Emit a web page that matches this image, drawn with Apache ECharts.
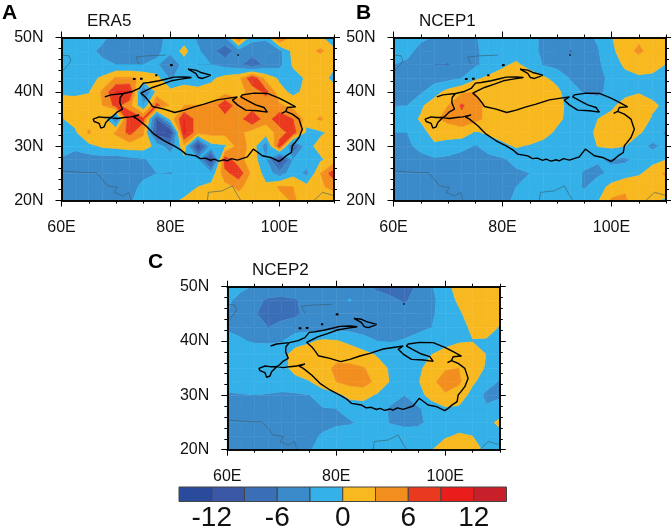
<!DOCTYPE html>
<html>
<head>
<meta charset="utf-8">
<style>
  html, body { margin: 0; padding: 0; background: #fff; }
  #chart { width: 671px; height: 529px; }
</style>
<script src="https://cdn.jsdelivr.net/npm/echarts@6/dist/echarts.min.js"></script>
</head>
<body>
<div id="chart"></div>
<script>
// grid of the fields, 2.5 degree spacing; rows run from 50N down to 20N
const lons = [60, 62.5, 65, 67.5, 70, 72.5, 75, 77.5, 80, 82.5, 85, 87.5, 90, 92.5, 95, 97.5, 100, 102.5, 105, 107.5, 110];
const lats = [50, 47.5, 45, 42.5, 40, 37.5, 35, 32.5, 30, 27.5, 25, 22.5, 20];

const era5 = [
  [-2, -2, -2, -2.5, -4, -4.5, -4.5, -4, -2, -1.5, -3.5, -4.5, -3.5, 6.5, -2.5, -2.6, 7, 2, 1.5, 1, -4],
  [-1.5, -2, -2.5, -3.5, -4.5, -5, -4.5, -3.5, -2, 1, -2.5, -5, -8, -4.5, -4, -4.5, -4, 1, 2, 3.5, 1.5],
  [-1.5, -2, -2, -2.5, -3, -3, -3, -2.5, -6, -1.5, -3, -3, -4, -5, -9, -5, -4, 0.5, 1, 1, 0.5],
  [-2, -1.5, -1, 0.5, 3.5, 3.5, 2.5, 1, -3.5, -1, -1.5, -0.5, 1, 2, 8.5, 2, -0.5, -1.5, 0.5, 1.5, -1],
  [-0.3, -0.5, -0.2, 3.5, 9, 9.5, -7, 1, 1, 1, 0.8, 1, 2, 2, 4, 7, 1, -0.8, 0.8, 1.5, 1.5],
  [0.8, 1, 1.5, 3, 7, 4, -3, 7, 2.5, 3, 3, 3.5, 8.5, 4, 4, 4, 3.5, 2, 1.5, 1, 1],
  [-0.2, 1, 1.5, 2, -6, 9, 7, -9, 1, 9, 4.5, 4.5, 4.5, 4.5, 9, 4, 8.5, 6, 1.5, 3.5, 1],
  [-0.5, -0.5, 3.5, 0.5, 3.5, 7, 3.5, -11, -12.5, 10, 4, 4, 4, 4, 1.5, 1.5, 4, 8, -1, -0.5, 1],
  [-1, -2.5, -1, 0.5, 1, 1.5, 1.5, -1, -5, 2, -13, -1, -0.5, 4.5, 2, -5, 8, -9, -1, 1, 1],
  [-3.5, -4, -4.5, -4.5, -5, -4, -3.5, -1.5, -1, -0.8, -2, -13, 8, 4, 1.5, -2.5, -12, -3, -1, -0.5, 1.5],
  [-4, -4.5, -4, -4, -4.5, -4.5, -4, -3, -3.2, -2, -3, -2, 5, 8, 2, -1, -5, -1, -4, 3, 8],
  [-3.5, -4.5, -4.5, -4.5, -4.5, -4.5, -2, -2, -1, -1, 0, 1, 2, 3.5, 2, 0.5, 3.5, 3, 1, 2.5, 4],
  [-3.5, -3.5, -3.5, -4, -4, -3.5, -1.5, -1, -0.5, 0.3, 1, 1.5, 2, 2, 1, 0.5, 1.5, 3.5, 1.5, 1, 1]
];

const ncep1 = [
  [-1, -1.5, -2.5, -3.2, -3.5, -3.3, -3.1, -2.5, -2, -2, -2.5, -3.3, -3.8, -4, -3.6, -2.7, -0.2, 2, 2.5, 2.5, 2.5],
  [-1.2, -2.3, -3.8, -4.5, -4.5, -4.2, -3.5, -2, -1.5, -1.5, -2.2, -3.5, -4.5, -6.3, -4.5, -3.2, -0.8, 2, 3.5, 2, 1],
  [-3, -3.5, -4.5, -6, -6.2, -4.5, -3.5, -2, -0.5, 0.5, -1, -3.2, -4, -4.5, -4.5, -3.5, -1.5, 0.5, 1.5, 1, -0.1],
  [-3.3, -3.5, -4, -4.2, -4, -3, -0.5, 0.6, 1.3, 2, 1.5, 0.5, -1, -3.2, -4, -3.6, -2.5, -1, -0.5, -0.6, -1],
  [-3.5, -3.5, -3.5, -1.2, 1, 2.5, 3, 2, 2, 2, 1.5, 1.3, 0.8, -2, -3.3, -3.7, -2, -0.8, -0.3, -0.8, -1],
  [-3.3, -3, -0.5, 1.5, 3, 6.5, 4, 2, 2, 2.2, 2, 1.5, 1, -1, -1.5, -1.5, -0.5, 1, 2, 0.5, -0.6],
  [-1.2, -1.2, 0.3, 2.5, 4, 5, 4, 2, 2, 2, 2, 1.5, 0.6, -0.8, -1.2, 0, 0.8, 1.5, 1.5, -0.3, -0.9],
  [-3, -3, -1, 1, 1, 1.5, -0.3, 0.5, 1.5, 2, 2, 1, -0.5, -1, -1.2, 0.6, 1.2, 1.2, 0.3, -1, -3.5],
  [-3.2, -3.5, -2.3, -0.5, -1, -2, -3.2, -2, -0.8, 0.3, -0.3, -1, -1.3, -1.5, -1.5, 0.1, 0.6, 0, -1.5, -3.8, -2],
  [-3.5, -3.8, -3.8, -3.5, -3.8, -4.5, -4, -3.7, -3.4, -2.2, -1.5, -1.5, -1.6, -2, -2, -2.8, -3.3, -3.5, -2, -1, 0],
  [-3.6, -3.8, -3.8, -3.6, -3.6, -6, -4.2, -3.8, -3.6, -3.5, -3, -1.5, -1.2, -1.5, -3.3, -3.5, -2.5, -1.5, -0.5, 1.5, 3.5],
  [-3.5, -3.6, -3.6, -3.6, -3.6, -3.6, -3.6, -3.5, -3.3, -3, -1.5, -1, -1.3, -1.8, -3.3, -1.5, 1, 2.5, 2.5, 2, 2],
  [-3.5, -3.6, -3.6, -3.6, -3.6, -3.6, -3.6, -3.5, -3.3, -2.8, -1.5, -1, -1, -1, -1, -0.3, 3.5, 3.5, 1, 0.5, -0.5]
];

const ncep2 = [
  [-2, -2.6, -3.2, -3.5, -3.5, -3.6, -3.7, -3.8, -3.8, -3.8, -5.2, -6.6, -7, -7.5, -5.5, -3.3, -0.8, 1, 2, 2, 2],
  [-2.7, -3.6, -5, -6.5, -7, -6.3, -4.5, -3.6, -3.5, -2.9, -3.7, -4.7, -5.5, -6.3, -5, -3.7, -1.5, 0.5, 2, 2, 2],
  [-3, -4, -5.8, -7, -7, -6.5, -5, -4, -4, -3.8, -4.2, -4.5, -4.8, -5, -4.5, -3.5, -1.5, -0.5, 1.5, 2, 2],
  [-3.2, -3.8, -5, -6, -5, -4.5, -4.2, -4, -4, -4, -4, -4, -4, -4, -3.7, -3, -1.5, -1, 0.5, 2, -0.3],
  [-2.5, -2.7, -3.4, -3.5, -3.2, -1, -0.5, 0.5, 0.2, -0.8, -2.2, -3, -3.2, -2.8, -2, -1.5, -1, -0.3, -0.1, -0.5, -1],
  [-1.5, -1, -1, -1, -0.8, 1, 2, 2.5, 2.5, 2, 1, -0.3, -1, -1, -0.8, 0, 1, 1.8, 1.5, 0, -1],
  [-1, -1, -1, -1, -0.8, 0.8, 1.8, 2.5, 3.3, 3.5, 3.2, 1.5, -0.5, -1, -0.5, 1, 2.8, 3, 1.5, -0.3, -1.2],
  [-1.5, -1.5, -1.5, -1.2, -1, -0.8, -0.2, 1.5, 3, 4, 4.5, 2, -0.3, -1, -0.3, 2.5, 4, 3.5, 0.5, -1.5, -3.3],
  [-3.5, -3.2, -3, -3.3, -3.7, -3.5, -3.1, -1.5, -0.8, 0.8, 0.8, -0.3, -1.8, -3, -1, 1, 2.7, 1.5, -1, -3.7, -3.5],
  [-3.8, -3.8, -3.8, -3.8, -3.8, -3.7, -3.6, -3.2, -3, -1.8, -1.2, -1.5, -3.5, -4, -3.5, -1.5, -0.5, -0.5, -1.5, -2.6, -1.5],
  [-3.5, -3.5, -3.5, -3.5, -3.5, -3.5, -3.5, -3.5, -3.4, -3.3, -2.5, -2, -3.2, -3.8, -3.8, -2, -1, -1, -1, -0.8, 0.6],
  [-3.5, -3.6, -3.6, -3.6, -3.6, -3.6, -3.5, -2.8, -2, -1.5, -1.2, -1, -1.2, -1.5, -1, -0.5, -0.3, 0.3, 0, -1, -1],
  [-3.5, -3.5, -3.5, -3.5, -3.5, -3.4, -3.2, -2.2, -1.5, -1, -1, -1, -1, -1, -1, -0.1, 1.5, 2, 1, -0.5, -1]
];

// contour levels and band colours, one more colour than levels
const levels = [-12, -9, -6, -3, 0, 3, 6, 9, 12];
const bandColors = ['#2a4b9b', '#3a57a6', '#3a6fb7', '#3b8bcb', '#33b1e8', '#f8b81f', '#f28e1e', '#e93a20', '#e91d1c', '#c8202a'];
const barEdges = [-15, -12, -9, -6, -3, 0, 3, 6, 9, 12, 15];
const barLabels = [-12, -6, 0, 6, 12];

// plateau outline, lon/lat
const plateau = [
  [67.95, 39.08], [69.05, 39.45], [71.37, 39.7], [73.02, 40.07], [74.24, 40.62], [75.04, 41.6], [76.08, 41.72],
  [77.91, 42.03], [79.44, 42.4], [80.66, 42.7], [82.5, 42.76], [83.84, 42.64], [81.88, 42.33], [80.17, 42.03],
  [78.52, 41.42], [76.69, 40.8], [74.55, 39.76], [75.47, 38.96], [76.2, 38.04], [76.69, 37.3], [78.83, 36.81],
  [80.78, 36.2], [82.5, 36.63], [84.33, 37.24], [86.16, 37.73], [88.6, 38.53], [92.27, 39.08], [91.36, 38.47],
  [92.27, 37.6], [93.8, 36.63], [95.94, 36.51], [97.77, 36.26], [97.16, 37.12], [95.63, 37.61], [94.41, 38.23],
  [92.88, 39.08], [93.19, 39.45], [95.33, 39.76], [97.77, 39.7], [99.91, 38.84], [101.44, 38.04], [102.97, 37.24],
  [101.44, 37.12], [101.13, 36.39], [100.4, 36.02], [101.13, 36.39], [102.36, 35.89], [103.58, 34.97], [104.19, 33.13],
  [103.58, 31.6], [102.8, 30.6], [102.36, 30.07], [102.17, 28.84], [101.2, 28.2], [100.52, 27.61], [99.91, 27.18],
  [98.38, 27.92], [96.86, 28.23], [95.63, 29.15], [95.2, 29.45], [94.1, 28.04], [92.27, 27.43], [91.2, 27.7],
  [90.4, 27.3], [89.83, 27.5], [88.9, 27.25], [88, 27.6], [87.38, 27.4], [86.4, 27.8], [85.5, 27.7], [84.63, 28.22],
  [82.8, 28.53], [81.88, 29.33], [80.66, 30.06], [78.83, 30.99], [77, 32.21], [75.47, 33.75], [73.94, 34.97],
  [73.2, 35.4], [74.24, 35.77], [72.72, 35.4], [71.49, 35.28], [70.27, 35.1], [69.05, 35.28], [67.83, 35.28],
  [66.91, 35.4], [65.81, 34.97], [65.99, 34.54], [66.91, 34.18], [67.22, 33.32], [67.83, 33.56], [68.13, 34.36],
  [69.05, 35.28], [69.54, 35.59], [70.27, 36.32], [71.19, 36.81], [70.7, 38.04], [70.76, 38.96], [71.37, 39.7]
];
const tianshan = [
  [83.23, 44.18], [84.63, 44], [85.55, 43.56], [87.39, 43.07], [86.65, 42.76], [85.86, 42.46], [85.12, 42.64], [84.63, 43.38], [83.23, 44.18]
];
const islets = [
  [[73.1, 42.34], [73.6, 42.34]],
  [[74.4, 42.4], [74.9, 42.4]],
  [[77.2, 43.07], [77.6, 43.07]],
  [[79.9, 44.9], [80.4, 44.95]],
  [[92.3, 46.8], [92.5, 46.8]]
];

// thin coastlines and lakes
const coasts = [
  [[60, 46.75], [61.4, 46.63], [61.7, 45.7], [61.1, 44.8], [60.2, 43.9]],
  [[74.24, 45.1], [73.63, 46.4], [75.77, 46.63], [79.13, 46.75]],
  [[60, 25.46], [64.16, 25.15], [66.3, 25.15], [67.5, 23.9], [68.4, 22.7], [70.3, 22.4], [69.66, 21.5], [71.2, 20.86], [72.4, 21.5], [72.7, 20]],
  [[86.77, 20], [86.95, 21.5], [89.5, 21.78], [91.35, 22.7], [92, 21.5], [92.9, 20]],
  [[106.3, 20], [107.9, 21.5], [110, 20.9]]
];

const panels = [
  { name: 'ERA5', letter: 'A', field: era5, left: 61.5, top: 37.5, titleLeft: 87, titleTop: 13, letterLeft: 2, letterTop: 3 },
  { name: 'NCEP1', letter: 'B', field: ncep1, left: 393.5, top: 37.5, titleLeft: 419, titleTop: 13, letterLeft: 356, letterTop: 3 },
  { name: 'NCEP2', letter: 'C', field: ncep2, left: 227.3, top: 286.7, titleLeft: 252, titleTop: 262, letterLeft: 148, letterTop: 252 }
];
const panelWidth = 272.5;
const panelHeight = 163;

const fontFamily = '"Liberation Sans", Arial, sans-serif';

/** Builds one data item per grid cell: corner position, then its four corner values. */
const buildCells = (field) => {
  const cells = [];
  for (let j = 0; j < lats.length - 1; j++) {
    for (let i = 0; i < lons.length - 1; i++) {
      cells.push([lons[i], lats[j], lons[i + 1], lats[j + 1], field[j][i], field[j][i + 1], field[j + 1][i + 1], field[j + 1][i]]);
    }
  }
  return cells;
};

/** Cuts a cell polygon down to the part on one side of level; sign 1 keeps above, -1 keeps below. */
const clipLevel = (poly, level, sign) => {
  const out = [];
  for (let k = 0; k < poly.length; k++) {
    const a = poly[k];
    const b = poly[(k + 1) % poly.length];
    const aIn = (a[2] - level) * sign >= 0;
    const bIn = (b[2] - level) * sign >= 0;
    if (aIn) {
      out.push(a);
    }
    if (aIn !== bIn) {
      const t = (level - a[2]) / (b[2] - a[2]);
      out.push([a[0] + t * (b[0] - a[0]), a[1] + t * (b[1] - a[1]), level]);
    }
  }
  return out;
};

const renderCell = (params, api) => {
  const p00 = api.coord([api.value(0), api.value(1)]);
  const p11 = api.coord([api.value(2), api.value(3)]);
  const poly = [
    [p00[0], p00[1], api.value(4)],
    [p11[0], p00[1], api.value(5)],
    [p11[0], p11[1], api.value(6)],
    [p00[0], p11[1], api.value(7)]
  ];
  const children = [];
  bandColors.forEach((color, n) => {
    let part = poly;
    if (n > 0) {
      part = clipLevel(part, levels[n - 1], 1);
    }
    if (n < levels.length && part.length > 2) {
      part = clipLevel(part, levels[n], -1);
    }
    if (part.length > 2) {
      children.push({
        type: 'polygon',
        shape: { points: part.map((pt) => [pt[0], pt[1]]) },
        style: { fill: color, stroke: color, lineWidth: 0.5 }
      });
    }
  });
  return { type: 'group', children };
};

const renderBarBox = (params, api) => {
  const start = api.coord([api.value(0), 1]);
  const end = api.coord([api.value(1), 0]);
  return {
    type: 'rect',
    shape: { x: start[0], y: start[1], width: end[0] - start[0], height: end[1] - start[1] },
    style: { fill: bandColors[params.dataIndex], stroke: '#444', lineWidth: 1 }
  };
};

const grid = [];
const xAxis = [];
const yAxis = [];
const series = [];
const title = [];

const axisLine = { show: true, onZero: false, lineStyle: { color: '#000', width: 1.5 } };
const tickLine = { color: '#000', width: 1 };

panels.forEach((panel, g) => {
  grid.push({ left: panel.left, top: panel.top, width: panelWidth, height: panelHeight, outerBoundsMode: 'none' });

  const label = { show: true, margin: 19, fontSize: 16, color: '#111', fontFamily, hideOverlap: false };
  ['bottom', 'top'].forEach((position) => {
    const labelled = position === 'bottom';
    xAxis.push({
      type: 'value', gridIndex: g, position, min: 60, max: 110, interval: 20, z: 5,
      splitLine: { show: false }, axisLine,
      axisTick: { show: true, length: 6, lineStyle: tickLine, customValues: [60, 80, 100] },
      axisLabel: labelled
        ? { ...label, customValues: [60, 80, 100], formatter: (v) => v + 'E' }
        : { show: false }
    });
    xAxis.push({
      type: 'value', gridIndex: g, position, min: 60, max: 110, interval: 5, z: 5,
      splitLine: { show: false }, axisLine,
      axisTick: { show: true, length: 3, lineStyle: tickLine },
      axisLabel: { show: false }
    });
  });
  ['left', 'right'].forEach((position) => {
    const labelled = position === 'left';
    yAxis.push({
      type: 'value', gridIndex: g, position, min: 20, max: 50, interval: 10, z: 5,
      splitLine: { show: false }, axisLine,
      axisTick: { show: true, length: 6, lineStyle: tickLine },
      axisLabel: labelled
        ? { ...label, margin: 18, formatter: (v) => v + 'N' }
        : { show: false }
    });
    yAxis.push({
      type: 'value', gridIndex: g, position, min: 20, max: 50, interval: 2, z: 5,
      splitLine: { show: false }, axisLine,
      axisTick: { show: true, length: 3, lineStyle: tickLine },
      axisLabel: { show: false }
    });
  });

  const xIndex = g * 4;
  const yIndex = g * 4;
  series.push({
    type: 'custom', name: panel.name, xAxisIndex: xIndex, yAxisIndex: yIndex, z: 1,
    coordinateSystem: 'cartesian2d', renderItem: renderCell, data: buildCells(panel.field),
    encode: { x: [0, 2], y: [1, 3] }, silent: true
  });
  const addLine = (points, color, width, z) => {
    series.push({
      type: 'line', xAxisIndex: xIndex, yAxisIndex: yIndex, data: points, z,
      showSymbol: false, silent: true, lineStyle: { color, width }
    });
  };
  coasts.forEach((coast) => addLine(coast, '#3d5a6c', 0.6, 2));
  addLine(plateau, '#000', 1.4, 3);
  addLine(tianshan, '#000', 1.4, 3);
  islets.forEach((islet) => addLine(islet, '#000', 2, 3));

  title.push({
    text: panel.name, left: panel.titleLeft, top: panel.titleTop,
    textStyle: { fontSize: 17, fontWeight: 'normal', color: '#111', fontFamily }, padding: 0
  });
  title.push({
    text: panel.letter, left: panel.letterLeft, top: panel.letterTop,
    textStyle: { fontSize: 21, fontWeight: 'bold', color: '#000', fontFamily }, padding: 0
  });
});

// colour bar drawn on its own value axis
grid.push({ left: 179, top: 487, width: 327.5, height: 14.5, outerBoundsMode: 'none' });
xAxis.push({
  type: 'value', gridIndex: 3, min: -15, max: 15, interval: 3,
  splitLine: { show: false }, axisLine: { show: false }, axisTick: { show: false },
  axisLabel: { show: true, margin: 3, fontSize: 28, color: '#111', fontFamily, customValues: barLabels, hideOverlap: false }
});
yAxis.push({ type: 'value', gridIndex: 3, min: 0, max: 1, show: false });
series.push({
  type: 'custom', xAxisIndex: xAxis.length - 1, yAxisIndex: yAxis.length - 1, coordinateSystem: 'cartesian2d',
  renderItem: renderBarBox, silent: true, encode: { x: [0, 1] },
  data: barEdges.slice(0, -1).map((edge, n) => [edge, barEdges[n + 1]])
});

const chart = echarts.init(document.getElementById('chart'), null, { renderer: 'canvas' });
chart.setOption({ animation: false, backgroundColor: '#fff', title, grid, xAxis, yAxis, series });
</script>
</body>
</html>
